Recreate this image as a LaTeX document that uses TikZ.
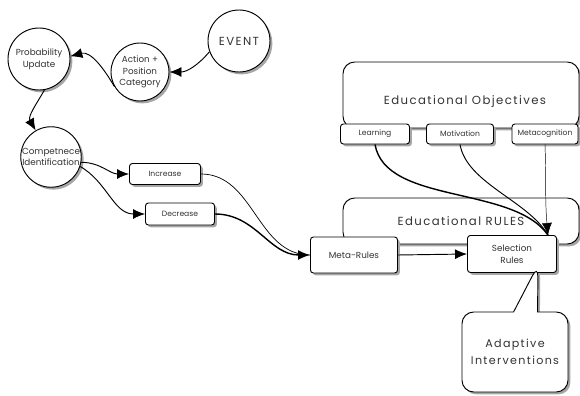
\documentclass[tikz,border=0pt]{standalone}
\usepackage{fontspec}
\setmainfont{Poppins}
\newfontfamily\widefont[LetterSpace=12]{Poppins}
\usetikzlibrary{arrows.meta}
\usetikzlibrary{shadows}
\usetikzlibrary{shapes.callouts}

\begin{document}
\begin{tikzpicture}[x=0.03cm, y=-0.03cm,
  shade/.style={drop shadow={shadow xshift=2pt, shadow yshift=-2pt, fill=black!35, opacity=1}},
  bubble/.style={circle, draw, thick, fill=white, shade, minimum size=1.86cm, inner sep=0pt, align=center, text=black!80, font=\fontsize{7.5}{10}\selectfont},
  tag/.style={rectangle, rounded corners=2.5pt, draw, thick, fill=white, shade, align=center, inner sep=1pt, text=black!80, font=\fontsize{6.5}{8}\selectfont},
  panel/.style={rectangle, rounded corners=10pt, draw, thick, fill=white, shade, minimum width=7.08cm},
  arr/.style={-{Latex[length=3.6mm, width=3mm]}, thick}]
 \useasboundingbox (0,0) rectangle (580,396);
 \node[panel, minimum height=1.98cm] (objectives) at (461,95) {};
 \node[text=black!80, font=\widefont\fontsize{10}{12}\selectfont] (objtitle) at (465,102) {Educational Objectives};
 \node[panel, minimum height=1.38cm, text=black!80, font=\widefont\fontsize{10}{12}\selectfont] (rules) at (461,221) {Educational RULES};
 \node[bubble, font=\widefont\fontsize{10}{12}\selectfont] (event) at (239,41) {EVENT};
 \node[bubble, minimum size=1.74cm] (action) at (140,72) {Action +\\Position\\Category};
 \node[bubble] (prob) at (39,59) {Probability\\Update};
 \node[bubble, minimum size=1.8cm] (comp) at (51,157) {Competnece\\Identification};
 \node[tag, minimum width=2.13cm, minimum height=0.63cm] (inc) at (165,174) {Increase};
 \node[tag, minimum width=2.07cm, minimum height=0.66cm] (dec) at (180,214) {Decrease};
 \node[tag, minimum width=2.07cm, minimum height=0.6cm] (learn) at (375,134) {Learning};
 \node[tag, minimum width=2.01cm, minimum height=0.6cm] (motiv) at (460,134) {Motivation};
 \node[tag, minimum width=1.98cm, minimum height=0.6cm] (metacog) at (545,134) {Metacognition};
 \node[tag, minimum width=2.61cm, minimum height=1.08cm, font=\fontsize{7.5}{10}\selectfont] (meta) at (354,255) {Meta-Rules};
 \node[tag, minimum width=2.67cm, minimum height=1.11cm, font=\fontsize{7.5}{10}\selectfont] (sel) at (512,254) {Selection\\Rules};
 \node[rectangle callout, draw, thick, fill=white, shade, rounded corners=10pt, minimum width=3.18cm, minimum height=2.4cm, callout absolute pointer={(538,265)}, callout pointer width=0.72cm, align=center, text=black!80, font=\widefont\fontsize{9.5}{14}\selectfont] (adapt) at (515,352) {Adaptive\\Interventions};
 \draw[arr] (event.200) to[out=230, in=0] (action.east);
 \draw[arr] (action.210) to[out=120, in=15] (prob.5);
 \draw[arr] (prob.-80) to[out=240, in=120] (comp.120);
 \draw[arr] (comp.-10) to[out=0, in=180] (inc.west);
 \draw[arr] (comp.-18) to[out=-30, in=180] (dec.west);
 \draw[semithick] (inc.east) to[out=0, in=180] (meta.west);
 \draw[arr, very thick] (dec.east) to[out=0, in=180] (meta.west);
 \draw[arr] (meta.east) -- (sel.west);
 \draw[very thick] (learn.south) to[out=-80, in=125, looseness=0.8] ([xshift=-0.27cm]sel.north east);
 \draw[thick] (motiv.south) to[out=-80, in=120, looseness=0.8] ([xshift=-0.27cm]sel.north east);
 \draw[arr, thin] (metacog.south) to[out=-88, in=95] ([xshift=-0.27cm]sel.north east);
\end{tikzpicture}
\end{document}
